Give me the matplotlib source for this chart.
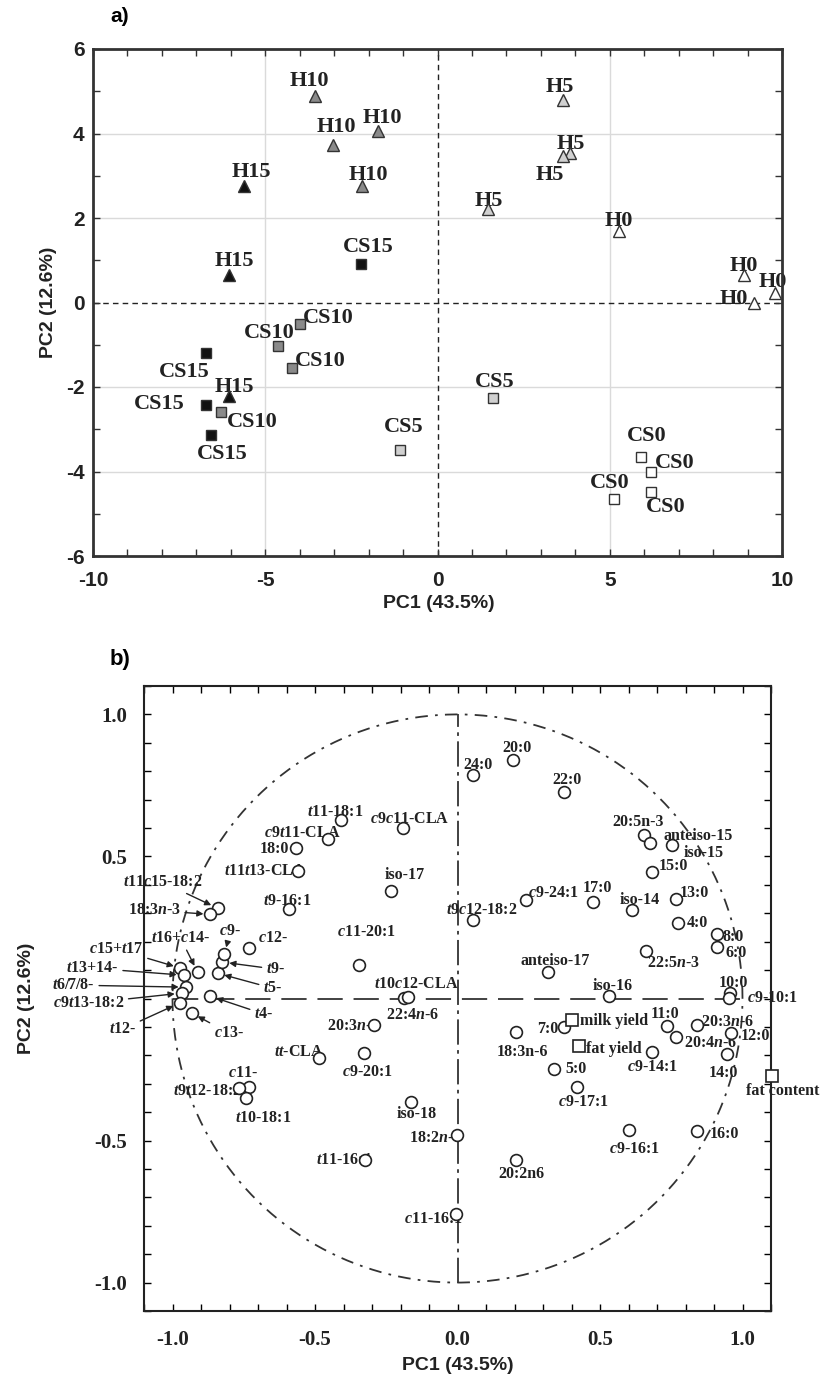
import numpy as np
import matplotlib
matplotlib.use("Agg")
import matplotlib.pyplot as plt
from matplotlib.ticker import MultipleLocator, FixedLocator

plt.rcParams["axes.unicode_minus"] = False
plt.rcParams["mathtext.fontset"] = "custom"
plt.rcParams["mathtext.rm"] = "Liberation Serif:bold"
plt.rcParams["mathtext.it"] = "Liberation Serif:italic:bold"
plt.rcParams["mathtext.bf"] = "Liberation Serif:bold"

# ---------------- datos panel a (scores) ----------------
a_grupo = ["H15", "H15", "H15",
           "H10", "H10", "H10", "H10",
           "H5", "H5", "H5", "H5",
           "H0", "H0", "H0", "H0",
           "CS15", "CS15", "CS15", "CS15",
           "CS10", "CS10", "CS10", "CS10",
           "CS5", "CS5",
           "CS0", "CS0", "CS0", "CS0"]
a_pc1 = [-5.63, -6.05, -6.05,
         -3.57, -3.02, -1.74, -2.20,
         3.64, 3.86, 3.64, 1.48,
         5.27, 8.90, 9.79, 9.20,
         -2.21, -6.72, -6.72, -6.57,
         -3.98, -4.62, -4.21, -6.28,
         -1.10, 1.62,
         5.90, 6.19, 6.19, 5.12]
a_pc2 = [2.76, 0.66, -2.22,
         4.89, 3.72, 4.06, 2.76,
         4.79, 3.54, 3.47, 2.22,
         1.70, 0.66, 0.22, 0.00,
         0.92, -1.19, -2.43, -3.13,
         -0.50, -1.03, -1.55, -2.60,
         -3.48, -2.25,
         -3.66, -4.01, -4.48, -4.65]

# ---------------- datos panel b (loadings) ----------------
b_nombres = ["$t$11$c$15-18:2", "18:3$n$-3", "$c$15+$t$17", "$t$16+$c$14-", "$t$13+14-",
             "$t$6/7/8-", "$c$9$t$13-18:2", "$t$12-", "$c$13-", "$t$4-",
             "$t$5-", "$t$9-", "$c$9-", "$c$12-", "$t$11-18:1",
             "$c$9$c$11-CLA", "$c$9$t$11-CLA", "18:0", "$t$11$t$13-CLA", "iso-17",
             "$t$9-16:1", "$c$11-20:1", "$t$10$c$12-CLA", "22:4$n$-6", "20:3$n$-3",
             "$tt$-CLA", "$c$9-20:1", "$c$11-", "$t$9$t$12-18:2", "$t$10-18:1",
             "iso-18", "18:2$n$-6", "$t$11-16:1", "$c$11-16:1", "24:0",
             "20:0", "22:0", "20:5n-3", "iso-15", "anteiso-15",
             "15:0", "$t$9$c$12-18:2", "$c$9-24:1", "17:0", "iso-14",
             "13:0", "4:0", "8:0", "6:0", "22:5$n$-3",
             "anteiso-17", "iso-16", "10:0", "$c$9-10:1", "18:3n-6",
             "7:0", "milk yield", "fat yield", "5:0", "$c$9-17:1",
             "$c$9-14:1", "11:0", "20:4$n$-6", "20:3$n$-6", "12:0",
             "14:0", "fat content", "16:0", "$c$9-16:1", "20:2n6"]
b_pc1 = [-0.842, -0.867, -0.972, -0.912, -0.961,
         -0.954, -0.968, -0.975, -0.933, -0.870,
         -0.842, -0.825, -0.818, -0.730, -0.410,
         -0.190, -0.456, -0.568, -0.558, -0.232,
         -0.590, -0.344, -0.189, -0.175, -0.294,
         -0.487, -0.329, -0.732, -0.768, -0.741,
         -0.162, -0.003, -0.323, -0.007, 0.053,
         0.193, 0.375, 0.653, 0.677, 0.751,
         0.684, 0.056, 0.242, 0.474, 0.614,
         0.768, 0.775, 0.912, 0.912, 0.663,
         0.319, 0.530, 0.955, 0.952, 0.204,
         0.373, 0.403, 0.425, 0.340, 0.420,
         0.684, 0.736, 0.767, 0.841, 0.958,
         0.947, 1.105, 0.841, 0.600, 0.204]
b_pc2 = [0.318, 0.296, 0.107, 0.093, 0.082,
         0.040, 0.019, -0.016, -0.051, 0.009,
         0.089, 0.128, 0.156, 0.177, 0.630,
         0.600, 0.560, 0.530, 0.450, 0.377,
         0.315, 0.118, 0.002, 0.005, -0.093,
         -0.208, -0.191, -0.310, -0.314, -0.350,
         -0.363, -0.479, -0.567, -0.757, 0.788,
         0.840, 0.728, 0.577, 0.546, 0.542,
         0.447, 0.275, 0.345, 0.339, 0.310,
         0.349, 0.265, 0.226, 0.180, 0.167,
         0.093, 0.009, 0.020, 0.002, -0.117,
         -0.100, -0.076, -0.167, -0.248, -0.313,
         -0.187, -0.097, -0.137, -0.093, -0.121,
         -0.196, -0.272, -0.465, -0.462, -0.567]
b_tipo = ["prod" if n in ("milk yield", "fat yield", "fat content") else "fa" for n in b_nombres]

# ---------------- ubicacion de etiquetas (pixeles) ----------------
a_etq = [(8, 14), (5, 14), (5, 9),
         (-5, 15), (3, 18), (5, 13), (7, 11),
         (-3, 13), (0, 9), (-13, -19), (0, 8),
         (0, 10), (0, 9), (-2, 11), (-21, 3),
         (7, 17), (-22, -19), (-47, 1), (11, -19),
         (28, 6), (-9, 13), (28, 7), (31, -10),
         (4, 23), (1, 16),
         (6, 21), (24, 9), (15, -15), (-4, 16)]

# (dx, dy, alineacion, flecha)
b_etq = [(-55, 26, "center", True), (-56, 4, "center", True), (-64, 19, "center", True),
         (-17, 34, "center", True), (-91, 7, "center", True), (-112, 2, "center", True),
         (-93, -10, "center", True), (-57, -26, "center", True), (37, -20, "center", True),
         (54, -18, "center", True), (55, -15, "center", True), (53, -7, "center", True),
         (6, 23, "center", True), (23, 10, "center", False), (-5, 8, "center", False),
         (6, 9, "center", False), (13, 6, "right", False), (-7, -1, "right", False),
         (7, 0, "right", False), (13, 16, "center", False), (-2, 8, "center", False),
         (7, 33, "center", False), (13, 14, "center", False), (5, -18, "center", False),
         (6, -1, "right", False), (5, 6, "right", False), (4, -19, "center", False),
         (-6, 14, "center", False), (3, -3, "right", False), (17, -20, "center", False),
         (5, -12, "center", False), (5, -3, "right", False), (7, 0, "right", False),
         (7, -5, "right", False), (5, 10, "center", False), (4, 12, "center", False),
         (3, 12, "center", False), (-6, 13, "center", False), (53, -10, "center", False),
         (27, 9, "center", False), (21, 6, "center", False), (8, 10, "center", False),
         (27, 7, "center", False), (5, 14, "center", False), (7, 10, "center", False),
         (18, 6, "center", False), (19, 0, "center", False), (16, -3, "center", False),
         (19, -6, "center", False), (27, -12, "center", False), (7, 11, "center", False),
         (4, 10, "center", False), (4, 10, "center", False), (44, 0, "center", False),
         (7, -20, "center", False), (-16, -2, "center", False), (8, -1, "left", False),
         (7, -3, "left", False), (11, 0, "left", False), (6, -15, "center", False),
         (0, -15, "center", False), (-2, 12, "center", False), (34, -6, "center", False),
         (30, 3, "center", False), (10, -3, "left", False), (-4, -19, "center", False),
         (10, -15, "center", False), (13, -3, "left", False), (6, -19, "center", False),
         (6, -14, "center", False)]

relleno = {"15": "#111111", "10": "#8a8a8a", "5": "#d0d0d0", "0": "white"}

fig = plt.figure(figsize=(8.22, 13.91), dpi=100)

# ======================= panel a =======================
ax = fig.add_axes([93 / 822, 1 - 556 / 1391, 689 / 822, 507 / 1391])
ax.set_xlim(-10, 10)
ax.set_ylim(-6, 6)
for v in [-5, 5]:
    ax.axvline(v, color="#dadada", lw=1, zorder=0)
for v in [-4, -2, 2, 4]:
    ax.axhline(v, color="#dadada", lw=1, zorder=0)
ax.axvline(0, color="#222222", lw=1, ls=(0, (4, 3)), zorder=1)
ax.axhline(0, color="#222222", lw=1, ls=(0, (4, 3)), zorder=1)

for g, x, y, (dx, dy) in zip(a_grupo, a_pc1, a_pc2, a_etq):
    nivel = g.lstrip("HCS")
    marca = "^" if g.startswith("H") else "s"
    ms = 8.5 if marca == "^" else 7.5
    ax.plot(x, y, marker=marca, ms=ms, mfc=relleno[nivel],
            mec="#333333", mew=1, ls="none", zorder=3, clip_on=False)
    ax.annotate(g, (x, y), xytext=(dx, dy), textcoords="offset pixels",
                ha="center", va="center", fontsize=16, fontweight="bold",
                family="Liberation Serif", color="#222222", zorder=2,
                annotation_clip=False)

ax.xaxis.set_major_locator(MultipleLocator(5))
ax.yaxis.set_major_locator(MultipleLocator(2))
ax.xaxis.set_minor_locator(MultipleLocator(1))
ax.yaxis.set_minor_locator(MultipleLocator(1))
ax.tick_params(which="both", direction="in", length=5, width=1, top=True, right=True,
               color="#333333")
ax.tick_params(axis="x", pad=11)
ax.tick_params(axis="y", pad=6)
for lab in ax.get_xticklabels() + ax.get_yticklabels():
    lab.set_family("Liberation Sans")
    lab.set_fontweight("bold")
    lab.set_fontsize(15)
    lab.set_color("#222222")
for s in ax.spines.values():
    s.set_linewidth(2)
    s.set_color("#333333")
ax.set_xlabel("PC1 (43.5%)", fontsize=14, fontweight="bold", family="Liberation Sans",
              color="#222222")
ax.set_ylabel("PC2 (12.6%)", fontsize=14, fontweight="bold", family="Liberation Sans",
              color="#222222")
ax.xaxis.set_label_coords(0.502, -0.093)
ax.xaxis.label.set_verticalalignment("center")
ax.yaxis.set_label_coords(-0.065, 0.5)
ax.yaxis.label.set_verticalalignment("center")

fig.text(120 / 822, 1 - 16 / 1391, "a)", fontsize=15, fontweight="bold",
         family="Liberation Sans", ha="center", va="center")

# ======================= panel b =======================
bx = fig.add_axes([144 / 822, 1 - 1311 / 1391, 627 / 822, 625 / 1391])
bx.set_xlim(-1.1, 1.1)
bx.set_ylim(-1.1, 1.1)

t = np.linspace(0, 2 * np.pi, 400)
bx.plot(np.cos(t), np.sin(t), color="#333333", lw=1.3, ls=(0, (7, 4, 1.5, 4)), zorder=1)
bx.plot([0, 0], [-1, 1], color="#333333", lw=1.3, ls=(0, (14, 3, 2, 3)), zorder=1)
bx.plot([-1, 1], [0, 0], color="#333333", lw=1.3, ls=(0, (14, 6)), zorder=1)

for nom, x, y, tipo, (dx, dy, ha, flecha) in zip(b_nombres, b_pc1, b_pc2, b_tipo, b_etq):
    marca = "s" if tipo == "prod" else "o"
    bx.plot(x, y, marker=marca, ms=8.5, mfc="white", mec="#222222", mew=1.2,
            ls="none", zorder=4, clip_on=False)
    props = None
    if flecha:
        props = dict(arrowstyle="-|>", color="#222222", lw=1, shrinkA=1, shrinkB=5,
                     mutation_scale=9)
    bx.annotate(nom, (x, y), xytext=(dx, dy), textcoords="offset pixels",
                ha=ha, va="center", fontsize=11.5, fontweight="bold",
                family="Liberation Serif", color="#222222", zorder=3,
                arrowprops=props, annotation_clip=False)

bx.xaxis.set_major_locator(FixedLocator([-1.0, -0.5, 0.0, 0.5, 1.0]))
bx.set_xticklabels(["-1.0", "-0.5", "0.0", "0.5", "1.0"])
bx.yaxis.set_major_locator(FixedLocator([-1.0, -0.5, 0.5, 1.0]))
bx.set_yticklabels(["-1.0", "-0.5", "0.5", "1.0"])
bx.xaxis.set_minor_locator(MultipleLocator(0.1))
bx.yaxis.set_minor_locator(MultipleLocator(0.1))
bx.tick_params(which="both", direction="in", length=5, width=1, top=True, right=True)
bx.tick_params(axis="x", pad=14)
bx.tick_params(axis="y", pad=12)
for lab in bx.get_xticklabels() + bx.get_yticklabels():
    lab.set_family("Liberation Serif")
    lab.set_fontweight("bold")
    lab.set_fontsize(15)
    lab.set_color("#222222")
for s in bx.spines.values():
    s.set_linewidth(1.5)
    s.set_color("#222222")
bx.set_xlabel("PC1 (43.5%)", fontsize=14, fontweight="bold", family="Liberation Sans",
              color="#222222")
bx.set_ylabel("PC2 (12.6%)", fontsize=14, fontweight="bold", family="Liberation Sans",
              color="#222222")
bx.xaxis.set_label_coords(0.5, -0.088)
bx.xaxis.label.set_verticalalignment("center")
bx.yaxis.set_label_coords(-0.188, 0.5)
bx.yaxis.label.set_verticalalignment("center")

fig.text(120 / 822, 1 - 660 / 1391, "b)", fontsize=16, fontweight="bold",
         family="Liberation Sans", ha="center", va="center")

fig.savefig("out.png", dpi=100)
